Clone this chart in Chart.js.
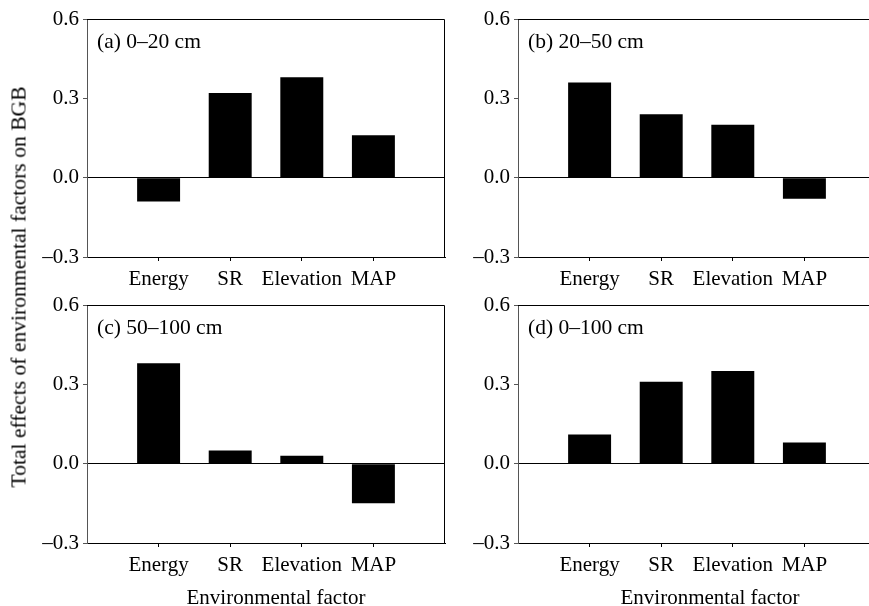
<!DOCTYPE html>
<html>
<head>
<meta charset="utf-8">
<script src="https://cdn.jsdelivr.net/npm/chart.js@4/dist/chart.umd.min.js"></script>
<style>
    body { margin: 0; width: 869px; height: 606px; overflow: hidden; background: #fff; position: relative; font-family: 'Liberation Serif', 'Times New Roman', serif; }
    canvas { position: absolute; }
    .ytitle { position: absolute; left: 19px; top: 287px; font-size: 21.6px; white-space: nowrap; transform: translate(-50%, -50%) rotate(-90deg); }
    .xtitle { position: absolute; top: 587px; font-size: 21px; line-height: 20px; white-space: nowrap; transform: translateX(-50%); }
</style>
</head>
<body>
<canvas id="panel-a" width="455" height="330" style="left:0px;top:0px"></canvas>
<canvas id="panel-b" width="455" height="330" style="left:431px;top:0px"></canvas>
<canvas id="panel-c" width="455" height="330" style="left:0px;top:286px"></canvas>
<canvas id="panel-d" width="455" height="330" style="left:431px;top:286px"></canvas>
<div class="ytitle">Total effects of environmental factors on BGB</div>
<div class="xtitle" style="left:276px">Environmental factor</div>
<div class="xtitle" style="left:710px">Environmental factor</div>
<script>
const factors = ['Energy', 'SR', 'Elevation', 'MAP'];
const yTicks = [-0.3, 0.0, 0.3, 0.6];

// total effects per soil layer
const layer0_20 = [-0.09, 0.32, 0.38, 0.16];
const layer20_50 = [0.36, 0.24, 0.20, -0.08];
const layer50_100 = [0.38, 0.05, 0.03, -0.15];
const layer0_100 = [0.11, 0.31, 0.35, 0.08];

const panelNames = ['(a) 0–20 cm', '(b) 20–50 cm', '(c) 50–100 cm', '(d) 0–100 cm'];

const font = {family: "'Liberation Serif', 'Times New Roman', serif", size: 21};

// top/right frame lines and the panel label inside the plot
const framePlugin = {
    id: 'frame',
    afterDraw(chart, args, opts) {
        const {ctx, chartArea: a} = chart;
        ctx.save();
        ctx.strokeStyle = '#000';
        ctx.lineWidth = 1;
        ctx.beginPath();
        ctx.moveTo(a.left, a.top + 0.5);
        ctx.lineTo(a.right - 0.5, a.top + 0.5);
        ctx.lineTo(a.right - 0.5, a.bottom);
        ctx.stroke();
        ctx.fillStyle = '#000';
        ctx.font = "21.5px 'Liberation Serif', 'Times New Roman', serif";
        ctx.textBaseline = 'alphabetic';
        ctx.fillText(opts.text, a.left + 10, a.top + 29);
        ctx.restore();
    }
};

function makePanel(id, values, name) {
    return new Chart(document.getElementById(id), {
        type: 'bar',
        data: {
            labels: [''].concat(factors, ['']),
            datasets: [
                {
                    data: [null].concat(values, [null]),
                    backgroundColor: '#000',
                    borderWidth: 0,
                    barPercentage: 0.6,
                    categoryPercentage: 1.0
                }
            ]
        },
        options: {
            responsive: false,
            animation: false,
            layout: {padding: {top: 19, right: 10, left: 0, bottom: 0}},
            plugins: {
                legend: {display: false},
                tooltip: {enabled: false},
                frame: {text: name}
            },
            scales: {
                x: {
                    offset: false,
                    afterFit: (scale) => { scale.height = 73; },
                    grid: {
                        offset: false,
                        drawOnChartArea: false,
                        tickLength: 4,
                        tickColor: (c) => (c.index === 0 || c.index === factors.length + 1 ? 'rgba(0,0,0,0)' : '#000')
                    },
                    border: {color: '#000'},
                    ticks: {color: '#000', font: font, padding: 6, maxRotation: 0, autoSkip: false}
                },
                y: {
                    min: yTicks[0],
                    max: yTicks[yTicks.length - 1],
                    afterFit: (scale) => { scale.width = 87; },
                    afterBuildTicks: (scale) => { scale.ticks = yTicks.map(v => ({value: v})); },
                    grid: {
                        color: (c) => (c.tick && Math.abs(c.tick.value) < 1e-9 ? '#000' : 'rgba(0,0,0,0)'),
                        tickColor: '#555',
                        tickLength: 4
                    },
                    border: {color: '#555'},
                    ticks: {
                        color: '#000',
                        font: font,
                        padding: 4,
                        callback: (v) => (Math.abs(v) < 1e-9 ? 0 : v).toFixed(1).replace('-', '–')
                    }
                }
            }
        },
        plugins: [framePlugin]
    });
}

makePanel('panel-a', layer0_20, panelNames[0]);
makePanel('panel-b', layer20_50, panelNames[1]);
makePanel('panel-c', layer50_100, panelNames[2]);
makePanel('panel-d', layer0_100, panelNames[3]);
</script>
</body>
</html>
